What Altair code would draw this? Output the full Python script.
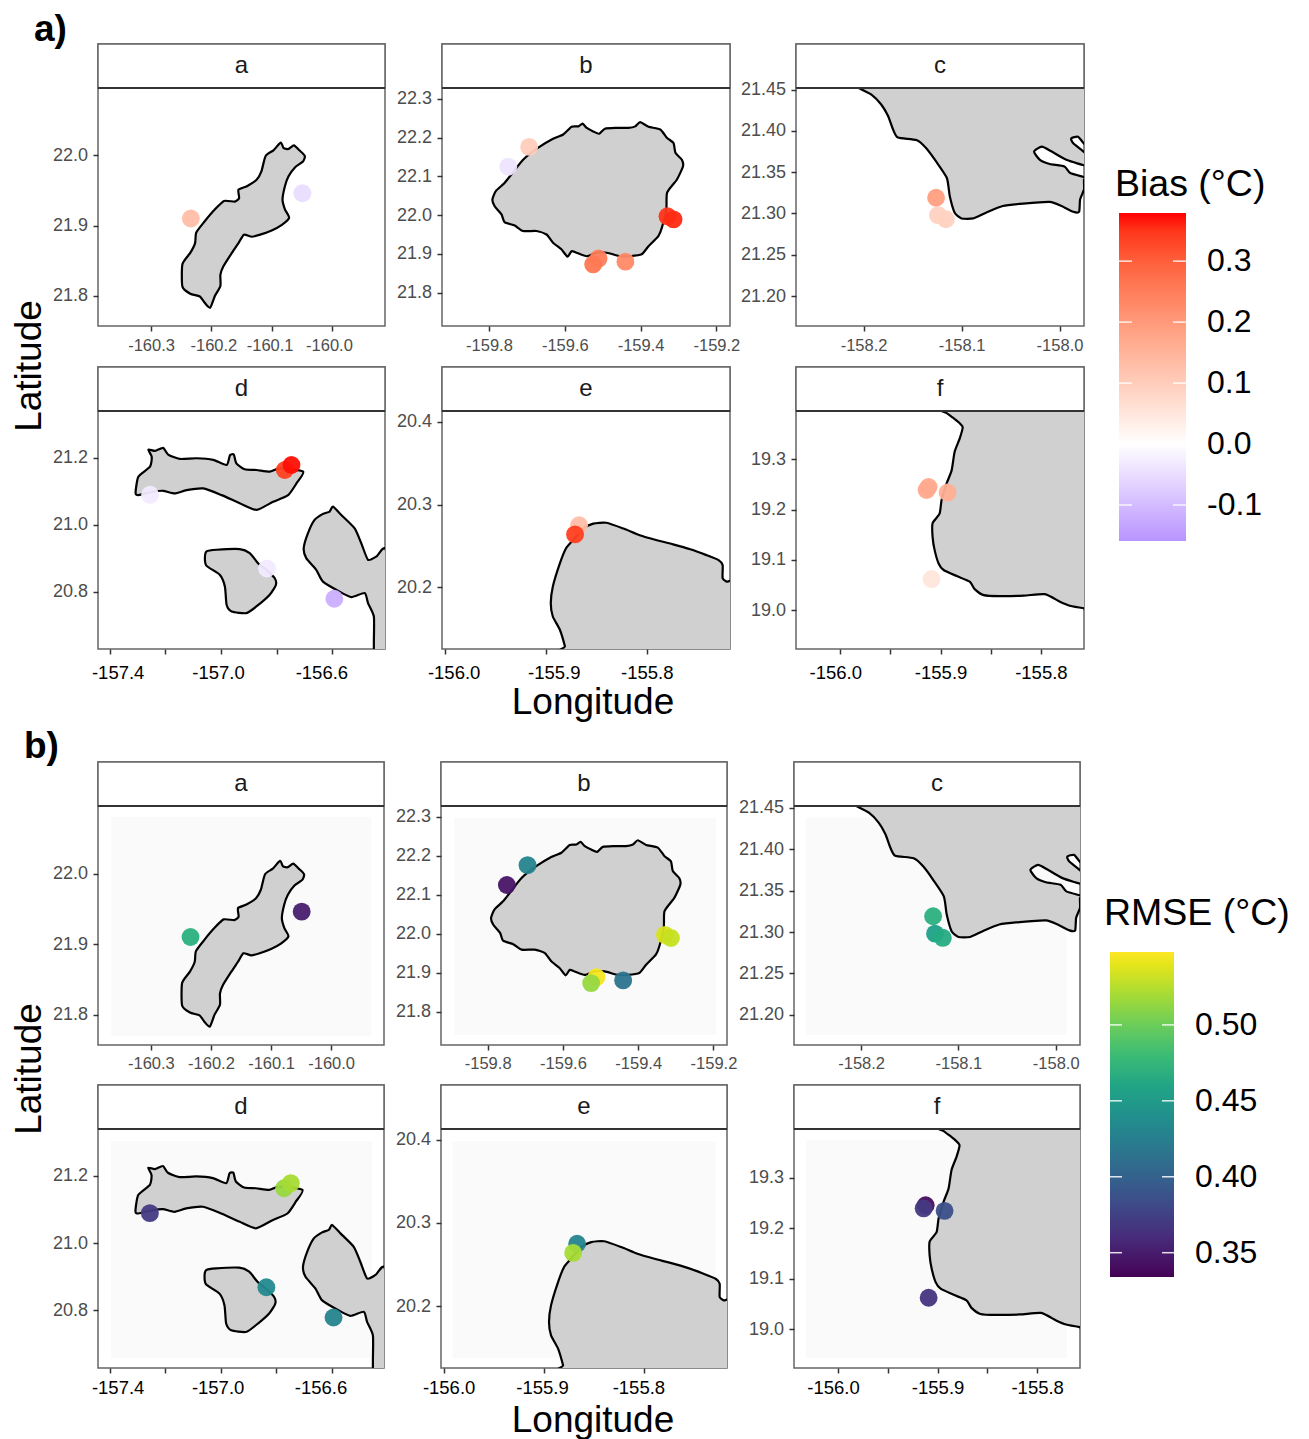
import altair as alt
import pandas as pd

# ---------- coastlines (longitude, latitude) ----------
A_LON = [-160.085,-160.080,-160.072,-160.063,-160.054,-160.045,-160.048,-160.061,-160.072,-160.078,-160.082,-160.078,-160.071,-160.083,-160.100,-160.119,-160.133,-160.146,-160.155,-160.166,-160.180,-160.185,-160.185,-160.194,-160.202,-160.211,-160.219,-160.235,-160.248,-160.248,-160.235,-160.227,-160.225,-160.211,-160.194,-160.179,-160.161,-160.154,-160.155,-160.141,-160.125,-160.117,-160.110,-160.097]
A_LAT = [22.018,22.010,22.009,22.014,22.007,21.999,21.991,21.983,21.970,21.956,21.937,21.923,21.911,21.901,21.893,21.887,21.884,21.887,21.875,21.861,21.842,21.830,21.814,21.800,21.783,21.790,21.799,21.803,21.813,21.845,21.861,21.875,21.890,21.906,21.923,21.935,21.934,21.939,21.951,21.956,21.965,21.977,21.999,22.007]

B_LON = [-159.553,-159.542,-159.525,-159.509,-159.494,-159.463,-159.432,-159.414,-159.401,-159.379,-159.348,-159.330,-159.313,-159.308,-159.291,-159.288,-159.304,-159.330,-159.332,-159.344,-159.353,-159.379,-159.397,-159.428,-159.454,-159.489,-159.516,-159.542,-159.569,-159.582,-159.593,-159.609,-159.631,-159.648,-159.675,-159.710,-159.732,-159.759,-159.767,-159.785,-159.791,-159.782,-159.759,-159.741,-159.710,-159.670,-159.631,-159.604,-159.582,-159.564]
B_LAT = [22.236,22.225,22.216,22.210,22.223,22.225,22.225,22.229,22.240,22.228,22.221,22.199,22.186,22.161,22.143,22.126,22.092,22.058,22.015,21.967,21.946,21.920,21.899,21.894,21.894,21.903,21.903,21.894,21.903,21.907,21.893,21.912,21.929,21.950,21.959,21.959,21.973,21.982,22.002,22.023,22.040,22.062,22.083,22.105,22.143,22.174,22.197,22.208,22.228,22.229]

C_LON = [-158.214,-158.205,-158.192,-158.182,-158.175,-158.170,-158.165,-158.146,-158.136,-158.126,-158.115,-158.112,-158.107,-158.100,-158.088,-158.075,-158.058,-158.037,-158.010,-157.998,-157.986,-157.980,-157.979,-157.975,-157.975,-157.972,-157.989,-157.995,-158.010,-158.020,-158.026,-158.018,-158.008,-157.993,-157.972,-157.972,-157.986,-157.988,-157.981,-157.972,-157.972]
C_LAT = [21.458,21.452,21.444,21.432,21.418,21.402,21.392,21.389,21.379,21.363,21.343,21.321,21.301,21.294,21.294,21.301,21.309,21.312,21.314,21.309,21.302,21.302,21.317,21.329,21.341,21.343,21.349,21.357,21.360,21.365,21.375,21.381,21.375,21.365,21.358,21.371,21.385,21.391,21.393,21.385,21.458]

D1_LON = [-157.261,-157.237,-157.208,-157.190,-157.148,-157.088,-157.028,-156.980,-156.968,-156.954,-156.945,-156.915,-156.873,-156.825,-156.789,-156.705,-156.729,-156.759,-156.813,-156.873,-156.933,-156.998,-157.064,-157.124,-157.166,-157.208,-157.243,-157.297,-157.307,-157.297,-157.255,-157.249]
D1_LAT = [21.224,21.220,21.229,21.209,21.196,21.198,21.193,21.178,21.207,21.209,21.183,21.165,21.163,21.158,21.168,21.158,21.123,21.088,21.068,21.044,21.064,21.088,21.108,21.103,21.093,21.101,21.098,21.088,21.095,21.143,21.173,21.202]
D2_LON = [-157.052,-157.016,-156.933,-156.897,-156.867,-156.837,-156.807,-156.803,-156.825,-156.873,-156.909,-156.962,-156.980,-156.986,-157.004,-157.052,-157.058]
D2_LAT = [20.920,20.925,20.927,20.915,20.885,20.865,20.840,20.820,20.791,20.756,20.736,20.741,20.761,20.815,20.850,20.877,20.900]
D3_LON = [-156.598,-156.568,-156.520,-156.496,-156.472,-156.442,-156.407,-156.407,-156.448,-156.451,-156.451,-156.472,-156.484,-156.532,-156.574,-156.634,-156.658,-156.694,-156.703,-156.688,-156.664,-156.634,-156.610]
D3_LAT = [21.054,21.029,20.989,20.944,20.895,20.905,20.920,20.617,20.617,20.647,20.726,20.766,20.796,20.784,20.800,20.830,20.865,20.900,20.930,20.974,21.014,21.032,21.039]

E_LON = [-155.880,-155.881,-155.886,-155.893,-155.895,-155.893,-155.886,-155.880,-155.873,-155.863,-155.853,-155.840,-155.823,-155.807,-155.790,-155.774,-155.757,-155.741,-155.729,-155.725,-155.725,-155.721,-155.714,-155.714]
E_LAT = [20.121,20.129,20.149,20.165,20.181,20.201,20.229,20.247,20.257,20.271,20.277,20.278,20.271,20.263,20.257,20.252,20.246,20.239,20.233,20.227,20.211,20.207,20.203,20.121]

F_LON = [-155.899,-155.894,-155.884,-155.878,-155.881,-155.886,-155.889,-155.894,-155.899,-155.901,-155.908,-155.908,-155.906,-155.902,-155.897,-155.884,-155.871,-155.866,-155.857,-155.841,-155.817,-155.796,-155.781,-155.771,-155.757,-155.754,-155.754]
F_LAT = [19.404,19.392,19.377,19.364,19.341,19.315,19.278,19.252,19.219,19.192,19.173,19.146,19.120,19.093,19.080,19.068,19.057,19.042,19.030,19.028,19.029,19.032,19.017,19.009,19.004,19.004,19.404]

COASTS = {
    "a": [(A_LON, A_LAT)],
    "b": [(B_LON, B_LAT)],
    "c": [(C_LON, C_LAT)],
    "d": [(D1_LON, D1_LAT), (D2_LON, D2_LAT), (D3_LON, D3_LAT)],
    "e": [(E_LON, E_LAT)],
    "f": [(F_LON, F_LAT)],
}

# ---------- stations ----------
ST_PANEL = ["a","a","b","b","b","b","b","b","b","c","c","c","d","d","d","d","d","e","e","f","f","f","f"]
ST_LON = [-160.234,-160.049,-159.749,-159.694,-159.329,-159.313,-159.511,-159.525,-159.440,-158.126,-158.124,-158.116,-157.255,-156.771,-156.747,-156.835,-156.593,-155.867,-155.871,-155.912,-155.914,-155.893,-155.909]
ST_LAT = [21.910,21.946,22.125,22.176,21.997,21.989,21.888,21.873,21.880,21.319,21.298,21.293,21.089,21.163,21.178,20.869,20.779,20.275,20.264,19.245,19.239,19.234,19.062]
BIAS = [0.13,-0.05,-0.04,0.10,0.35,0.36,0.25,0.26,0.23,0.19,0.09,0.09,-0.03,0.34,0.375,-0.03,-0.12,0.13,0.34,0.17,0.17,0.16,0.05]
RMSE = [0.47,0.35,0.345,0.43,0.535,0.53,0.545,0.515,0.415,0.47,0.455,0.465,0.37,0.515,0.52,0.435,0.43,0.43,0.52,0.34,0.37,0.385,0.365]

# ---------- panel axes ----------
X_DOMAIN = {"a":[-160.388,-159.912],"b":[-159.924,-159.164],"c":[-158.269,-157.975],"d":[-157.442,-156.411],"e":[-156.0026,-155.7177],"f":[-156.0442,-155.757]}
Y_DOMAIN = {"a":[21.757,22.0957],"b":[21.714,22.328],"c":[21.1637,21.452],"d":[20.629,21.339],"e":[20.1258,20.4128],"f":[18.923,19.396]}
X_TICKS = {"a":[-160.3,-160.2,-160.1,-160.0],"b":[-159.8,-159.6,-159.4,-159.2],"c":[-158.2,-158.1,-158.0],"d":[-157.4,-157.2,-157.0,-156.8,-156.6],"e":[-156.0,-155.9,-155.8],"f":[-156.0,-155.95,-155.9,-155.85,-155.8]}
X_LABELLED = {"a":X_TICKS["a"],"b":X_TICKS["b"],"c":X_TICKS["c"],"d":[-157.4,-157.0,-156.6],"e":X_TICKS["e"],"f":[-156.0,-155.9,-155.8]}
# horizontal nudges of individual tick labels, as in the source figure
NUDGE_TOP = {"a":{-160.2:2,-160.1:-2,-160.0:-3},"b":{},"c":{},"d":{-157.4:8,-157.0:-3,-156.6:-11},"e":{-156.0:9,-155.9:8},"f":{-156.0:-5}}
NUDGE_BOTTOM = {"a":{},"b":{},"c":{},"d":{-157.4:8,-157.0:-3,-156.6:-11},"e":{-156.0:5,-155.9:-2,-155.8:-6},"f":{-156.0:-5}}
Y_TICKS = {"a":[21.8,21.9,22.0],"b":[21.8,21.9,22.0,22.1,22.2,22.3],"c":[21.20,21.25,21.30,21.35,21.40,21.45],"d":[20.8,21.0,21.2],"e":[20.2,20.3,20.4],"f":[19.0,19.1,19.2,19.3]}
Y_FORMAT = {"a":".1f","b":".1f","c":".2f","d":".1f","e":".1f","f":".1f"}
# pale raster extent behind the RMSE maps: lon0, lon1, lat0, lat1
RASTER = {"a":[-160.366,-159.933,21.770,22.080],"b":[-159.889,-159.193,21.740,22.297],"c":[-158.257,-157.989,21.176,21.438],"d":[-157.395,-156.454,20.659,21.303],"e":[-155.991,-155.729,20.138,20.398],"f":[-156.032,-155.770,18.943,19.374]}

BIAS_DOMAIN = [-0.159, 0.0, 0.379]
BIAS_RANGE = ["#b794ff", "#ffffff", "#ff0000"]
BIAS_TICKS = [-0.1, 0.0, 0.1, 0.2, 0.3]
RMSE_DOMAIN = [0.334, 0.548]
RMSE_TICKS = [0.35, 0.40, 0.45, 0.50]

STRIP = 44
FONT = "Liberation Sans"
GREY = "#4d4d4d"

bias_scale = alt.Scale(domain=BIAS_DOMAIN, range=BIAS_RANGE, interpolate="lab")
rmse_scale = alt.Scale(scheme="viridis", domain=RMSE_DOMAIN)


def spacer(w, h, texts=()):
    base = alt.Chart(pd.DataFrame({"t": [""]})).mark_text().encode(
        text="t:N", x=alt.value(w / 2), y=alt.value(h / 2)
    )
    layers = [base]
    for t in texts:
        layers.append(
            alt.Chart(pd.DataFrame({"t": [t["text"]]}))
            .mark_text(font=FONT, fontSize=t.get("size", 37), fontWeight=t.get("weight", "normal"),
                       align=t.get("align", "center"), baseline="middle", angle=t.get("angle", 0), color="black")
            .encode(text="t:N", x=alt.value(t["x"]), y=alt.value(t["y"]))
        )
    return alt.layer(*layers).properties(width=w, height=h)


def panel(name, value_field, scale, w, h, lower_row, raster, nudge, pad):
    rows = []
    for k, (lons, lats) in enumerate(COASTS[name]):
        for i, (lo, la) in enumerate(zip(lons, lats)):
            rows.append({"lon": lo, "lat": la, "island": k, "i": i})
    coast = pd.DataFrame(rows)
    st = pd.DataFrame({"panel": ST_PANEL, "lon": ST_LON, "lat": ST_LAT, "bias": BIAS, "rmse": RMSE})
    st = st[st.panel == name].reset_index(drop=True)
    st["ord"] = st.index

    shown = "[" + ",".join(str(v) for v in X_LABELLED[name]) + "]"
    nudges = [{"test": f"datum.value == {k}", "value": v} for k, v in nudge[name].items()]
    extra = {"labelOffset": {"condition": nudges, "value": 0}} if nudges else {}
    xaxis = alt.Axis(
        values=X_TICKS[name], title=None, grid=False, domain=False, tickSize=5, tickWidth=1.5, tickColor="#333333",
        labelExpr=f"indexof({shown}, datum.value) >= 0 ? '-' + format(abs(datum.value), '.1f') : ''",
        labelFlush=False, labelOverlap=False, labelFont=FONT,
        labelFontSize=18.5 if lower_row else 16.5, labelColor="black" if lower_row else GREY,
        labelPadding=pad, **extra,
    )
    yaxis = alt.Axis(
        values=Y_TICKS[name], title=None, grid=False, domain=False, tickSize=5, tickWidth=1.5, tickColor="#333333",
        format=Y_FORMAT[name], labelFlush=False, labelOverlap=False, labelFont=FONT,
        labelFontSize=18, labelColor=GREY, labelPadding=5.5,
    )
    xs = alt.Scale(domain=X_DOMAIN[name], nice=False, zero=False)
    ys = alt.Scale(domain=Y_DOMAIN[name], range=[h, STRIP], nice=False, zero=False)
    X = alt.X("lon:Q", scale=xs, axis=xaxis)
    Y = alt.Y("lat:Q", scale=ys, axis=yaxis)

    layers = []
    if raster:
        e = RASTER[name]
        layers.append(
            alt.Chart(pd.DataFrame({"lon": [e[0]], "lon2": [e[1]], "lat": [e[2]], "lat2": [e[3]]}))
            .mark_rect(color="#fafafa")
            .encode(x=X, x2="lon2:Q", y=Y, y2="lat2:Q")
        )
    layers.append(
        alt.Chart(coast)
        .mark_line(interpolate="cardinal-closed", tension=0.4, fill="#d0d0d0", stroke="black", strokeWidth=2.2, clip=True)
        .encode(x=X, y=Y, detail="island:N", order="i:Q")
    )
    layers.append(
        alt.Chart(st)
        .mark_circle(size=320, opacity=0.95)
        .encode(x=X, y=Y, color=alt.Color(f"{value_field}:Q", scale=scale, legend=None), order="ord:Q")
    )
    strip = pd.DataFrame({"s": [name]})
    layers.append(
        alt.Chart(strip).mark_rect(fill="white", stroke="#666666", strokeWidth=1.5).encode(
            x=alt.value(0), x2=alt.value(w), y=alt.value(0), y2=alt.value(STRIP))
    )
    layers.append(
        alt.Chart(strip).mark_rule(color="#333333", strokeWidth=2).encode(
            x=alt.value(0), x2=alt.value(w), y=alt.value(STRIP))
    )
    layers.append(
        alt.Chart(strip).mark_text(font=FONT, fontSize=24, color="#1a1a1a", baseline="middle").encode(
            text="s:N", x=alt.value(w / 2), y=alt.value(STRIP / 2))
    )
    return alt.layer(*layers).properties(
        width=w, height=h, view=alt.ViewBackground(stroke="#666666", strokeWidth=1.5)
    )


def legend_cell(w, h, field, title, scale, ticks, gx, gy, gw, gh, tx, ty):
    holder = pd.DataFrame({field: ticks})
    fmt = ".2f" if field == "rmse" else ".1f"
    hidden = alt.Chart(holder).mark_circle(opacity=1).encode(
        x=alt.value(0), y=alt.value(0), size=alt.value(0),
        color=alt.Color(
            f"{field}:Q", scale=scale,
            legend=alt.Legend(
                title=None, orient="none", legendX=gx, legendY=gy, gradientLength=gh, gradientThickness=gw,
                values=ticks, labelFont=FONT, labelFontSize=32,
                labelExpr=f"(datum.value < 0 ? '-' : '') + format(abs(datum.value), '{fmt}')",
                labelColor="black", labelOffset=21, labelOverlap=False, gradientStrokeWidth=0, tickCount=len(ticks),
            ),
        ),
    )
    head = alt.Chart(pd.DataFrame({"t": [title]})).mark_text(
        font=FONT, fontSize=37.5, align="left", baseline="middle", color="black"
    ).encode(text="t:N", x=alt.value(tx), y=alt.value(ty))
    return alt.layer(hidden, head).properties(width=w, height=h)


def tick_cell(w, h, domain, ticks, gx, gy_rel, gw, gh, tick_len):
    # drawn in the cell after the legend's, so the white ticks lie on top of the colour bar
    lo, hi = domain[0], domain[-1]
    yscale = alt.Scale(domain=[lo, hi], range=[gy_rel + gh, gy_rel], nice=False, zero=False)
    tk = pd.DataFrame({"v": ticks})
    left = alt.Chart(tk).mark_rule(color="white", strokeWidth=1.5, opacity=0.85).encode(
        y=alt.Y("v:Q", scale=yscale, axis=None), x=alt.value(gx), x2=alt.value(gx + tick_len))
    right = alt.Chart(tk).mark_rule(color="white", strokeWidth=1.5, opacity=0.85).encode(
        y=alt.Y("v:Q", scale=yscale, axis=None), x=alt.value(gx + gw - tick_len), x2=alt.value(gx + gw))
    return alt.layer(left, right).properties(width=w, height=h)


def block(field, scale, raster, cols, rows, letter, lat_y, lon_xy, legend, ticks, nudge, pad_up, pad_low):
    c0, c1, c2, c3, c4, c5, c6 = cols
    r0, r1, r2, r3, r4 = rows
    grid = [
        spacer(c0, r0, [letter]), spacer(c1, r0), spacer(c2, r0), spacer(c3, r0), spacer(c4, r0), spacer(c5, r0), spacer(c6, r0),
        spacer(c0, r1),
        panel("a", field, scale, c1, r1, False, raster, nudge, pad_up), spacer(c2, r1),
        panel("b", field, scale, c3, r1, False, raster, nudge, pad_up), spacer(c4, r1),
        panel("c", field, scale, c5, r1, False, raster, nudge, pad_up),
        legend,
        spacer(c0, r2, [{"text": "Latitude", "x": 21, "y": lat_y, "angle": 270}]), spacer(c1, r2), spacer(c2, r2), spacer(c3, r2), spacer(c4, r2), spacer(c5, r2),
        ticks,
        spacer(c0, r3),
        panel("d", field, scale, c1, r3, True, raster, nudge, pad_low), spacer(c2, r3),
        panel("e", field, scale, c3, r3, True, raster, nudge, pad_low), spacer(c4, r3),
        panel("f", field, scale, c5, r3, True, raster, nudge, pad_low),
        spacer(c6, r3),
        spacer(c0, r4), spacer(c1, r4), spacer(c2, r4),
        spacer(c3, r4, [{"text": "Longitude", "x": lon_xy[0], "y": lon_xy[1]}]),
        spacer(c4, r4), spacer(c5, r4), spacer(c6, r4),
    ]
    return alt.concat(*grid, columns=7, spacing=0, bounds="flush", align="each").resolve_scale(color="independent")


top = block(
    "bias", bias_scale, False,
    [89, 287, 57, 288, 66, 288, 215], [35, 282, 41, 282, 76],
    {"text": "a)", "x": 25, "y": 21, "weight": "bold", "align": "left"},
    40, (151, 54),
    legend_cell(215, 282, "bias", "Bias (°C)", bias_scale, BIAS_TICKS, 35, 169, 67, 328, 31, 141),
    tick_cell(215, 41, BIAS_DOMAIN, BIAS_TICKS, 35, 169 - 282, 67, 328, 13),
    NUDGE_TOP, 6, 9,
)
bottom = block(
    "rmse", rmse_scale, True,
    [89, 286, 57, 286, 67, 286, 219], [35, 283, 40, 283, 71],
    {"text": "b)", "x": 15, "y": 20, "weight": "bold", "align": "left"},
    24, (152, 53),
    legend_cell(219, 283, "rmse", "RMSE (°C)", rmse_scale, RMSE_TICKS, 30, 190, 64, 325, 24, 152),
    tick_cell(219, 40, RMSE_DOMAIN, RMSE_TICKS, 30, 190 - 283, 64, 325, 12),
    NUDGE_BOTTOM, 5, 5,
)

chart = (
    alt.vconcat(top, bottom, spacing=0)
    .resolve_scale(color="independent")
    .properties(padding=0, background="white")
    .configure(font=FONT)
    .configure_view(stroke="transparent")
)
chart.save("out.html", embed_options={"renderer": "svg", "actions": False})
